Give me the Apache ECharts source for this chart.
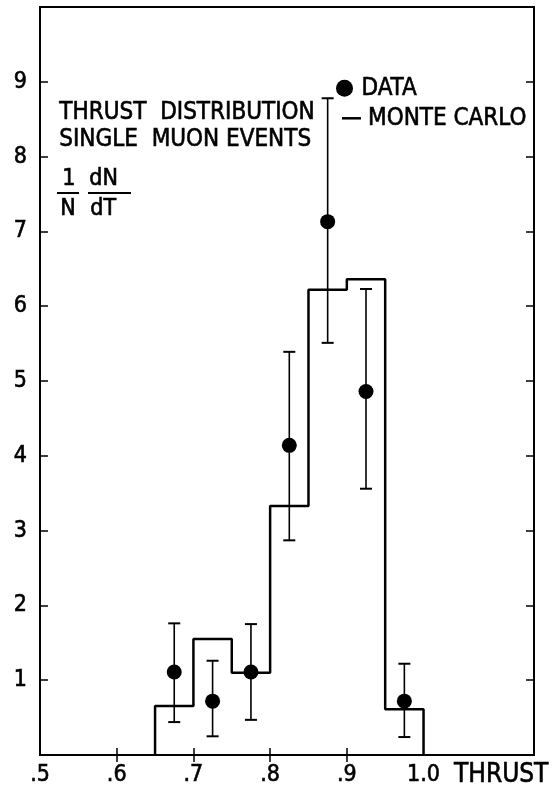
<!DOCTYPE html>
<html>
<head>
<meta charset="utf-8">
<script src="https://cdn.jsdelivr.net/npm/echarts@6/dist/echarts.min.js"></script>
<style>
html,body{margin:0;padding:0;background:#fff;}
#c{width:559px;height:791px;}
</style>
</head>
<body>
<div id="c"></div>
<script>
// ---- data ----
const binCenters = [0.675, 0.725, 0.775, 0.825, 0.875, 0.925, 0.975];
const dataValues = [1.11, 0.72, 1.11, 4.14, 7.13, 4.86, 0.72];
const errLow     = [0.44, 0.25, 0.47, 2.87, 5.51, 3.56, 0.24];
const errHigh    = [1.76, 1.26, 1.75, 5.39, 8.78, 6.23, 1.22];
const mcBinEdges = [0.65, 0.70, 0.75, 0.80, 0.85, 0.90, 0.95, 1.00];
const mcValues   = [0.655, 1.55, 1.10, 3.33, 6.22, 6.36, 0.61];
const xLabelValues = [0.5, 0.6, 0.7, 0.8, 0.9, 1.0];
const xTickValues  = [0.6, 0.7, 0.8, 0.9];
const yTickValues  = [1, 2, 3, 4, 5, 6, 7, 8, 9];

const FONT = "'DejaVu Sans Condensed','Liberation Sans Narrow',sans-serif";
const BOLDEN = {textBorderColor: '#000', textBorderWidth: 0.6};

// histogram outline
const mcLine = [[mcBinEdges[0], 0]];
for (let i = 0; i < mcValues.length; i++) {
  mcLine.push([mcBinEdges[i], mcValues[i]]);
  mcLine.push([mcBinEdges[i + 1], mcValues[i]]);
}
mcLine.push([mcBinEdges[mcBinEdges.length - 1], 0]);

const points = binCenters.map((x, i) => [x, dataValues[i]]);
const errs = binCenters.map((x, i) => [x, errLow[i], errHigh[i]]);

const chart = echarts.init(document.getElementById('c'), null, {renderer: 'canvas'});
const fmt = v => (Math.abs(v - 1) < 1e-9 ? '1.0' : '.' + Math.round(v * 10));

const gtext = (txt, left, top, size) => ({
  type: 'text', left: left, top: top,
  style: {text: txt, fill: '#000', font: size + 'px ' + FONT, stroke: '#000', lineWidth: 0.6}
});

chart.setOption({
  animation: false,
  backgroundColor: '#fff',
  grid: {left: 40, right: 25, top: 7, bottom: 36, show: true, borderColor: '#000', borderWidth: 2, backgroundColor: 'transparent'},
  xAxis: [{
    type: 'value', min: 0.5, max: 1.144, position: 'bottom',
    axisLine: {show: true, lineStyle: {color: '#000', width: 2}},
    axisTick: {show: true, inside: true, length: 7, customValues: xTickValues, lineStyle: {color: '#000', width: 1.5}},
    axisLabel: Object.assign({show: true, customValues: xLabelValues, formatter: fmt, color: '#000', fontSize: 23, fontFamily: FONT, margin: 9}, BOLDEN),
    splitLine: {show: false},
    name: 'THRUST', nameLocation: 'end', nameGap: -80,
    nameTextStyle: Object.assign({color: '#000', fontSize: 26, fontFamily: FONT, verticalAlign: 'top', align: 'left', padding: [7, 0, 0, 0]}, BOLDEN)
  }, {
    type: 'value', min: 0.5, max: 1.144, position: 'top',
    axisLine: {show: true, lineStyle: {color: '#000', width: 2}},
    axisTick: {show: true, inside: true, length: 7, customValues: xTickValues, lineStyle: {color: '#000', width: 1.5}},
    axisLabel: {show: false}, splitLine: {show: false}
  }],
  yAxis: [{
    type: 'value', min: 0, max: 10, position: 'left',
    axisLine: {show: true, lineStyle: {color: '#000', width: 2}},
    axisTick: {show: true, inside: true, length: 8, customValues: yTickValues, lineStyle: {color: '#000', width: 1.5}},
    axisLabel: Object.assign({show: true, customValues: yTickValues, color: '#000', fontSize: 23, fontFamily: FONT, margin: 13}, BOLDEN),
    splitLine: {show: false}
  }, {
    type: 'value', min: 0, max: 10, position: 'right',
    axisLine: {show: true, lineStyle: {color: '#000', width: 2}},
    axisTick: {show: true, inside: true, length: 8, customValues: yTickValues, lineStyle: {color: '#000', width: 1.5}},
    axisLabel: {show: false}, splitLine: {show: false}
  }],
  legend: [{
    data: [{name: 'DATA', icon: 'circle', itemStyle: {color: '#000', opacity: 1}}],
    left: 331, top: 71, itemWidth: 32, itemHeight: 17, itemGap: 4,
    textStyle: Object.assign({color: '#000', fontSize: 24, fontFamily: FONT, padding: [0, 0, 0, -4]}, BOLDEN)
  }, {
    data: [{name: 'MONTE CARLO', icon: 'rect', itemStyle: {color: '#000', opacity: 1}}],
    left: 337, top: 101, itemWidth: 19, itemHeight: 2.5,
    textStyle: Object.assign({color: '#000', fontSize: 24, fontFamily: FONT, padding: [0, 0, 0, 2]}, BOLDEN)
  }],
  series: [{
    name: 'MONTE CARLO', type: 'line', data: mcLine, symbol: 'none',
    lineStyle: {color: '#000', width: 2.5}, itemStyle: {color: '#000'}, z: 3
  }, {
    name: 'errors', type: 'custom', data: errs,
    renderItem: function (params, api) {
      const x = api.value(0);
      const lo = api.coord([x, api.value(1)]);
      const hi = api.coord([x, api.value(2)]);
      const w = 6;
      const st = {stroke: '#000', lineWidth: 1.6};
      return {type: 'group', children: [
        {type: 'line', shape: {x1: lo[0], y1: lo[1], x2: hi[0], y2: hi[1]}, style: st},
        {type: 'line', shape: {x1: lo[0] - w, y1: lo[1], x2: lo[0] + w, y2: lo[1]}, style: {stroke: '#000', lineWidth: 2}},
        {type: 'line', shape: {x1: hi[0] - w, y1: hi[1], x2: hi[0] + w, y2: hi[1]}, style: {stroke: '#000', lineWidth: 2}}
      ]};
    },
    z: 4
  }, {
    name: 'DATA', type: 'scatter', data: points, symbol: 'circle', symbolSize: 15,
    itemStyle: {color: '#000', opacity: 1}, z: 5
  }],
  graphic: [
    gtext('THRUST  DISTRIBUTION', 59, 100, 24),
    gtext('SINGLE  MUON EVENTS', 59, 127, 24),
    gtext('1', 62, 167, 23),
    gtext('N', 60, 197, 23),
    gtext('dN', 89, 167, 23),
    gtext('dT', 90, 197, 23),
    {type: 'line', shape: {x1: 57, y1: 193, x2: 79, y2: 193}, style: {stroke: '#000', lineWidth: 2}},
    {type: 'line', shape: {x1: 88, y1: 193, x2: 131, y2: 193}, style: {stroke: '#000', lineWidth: 2}}
  ]
});
</script>
</body>
</html>
